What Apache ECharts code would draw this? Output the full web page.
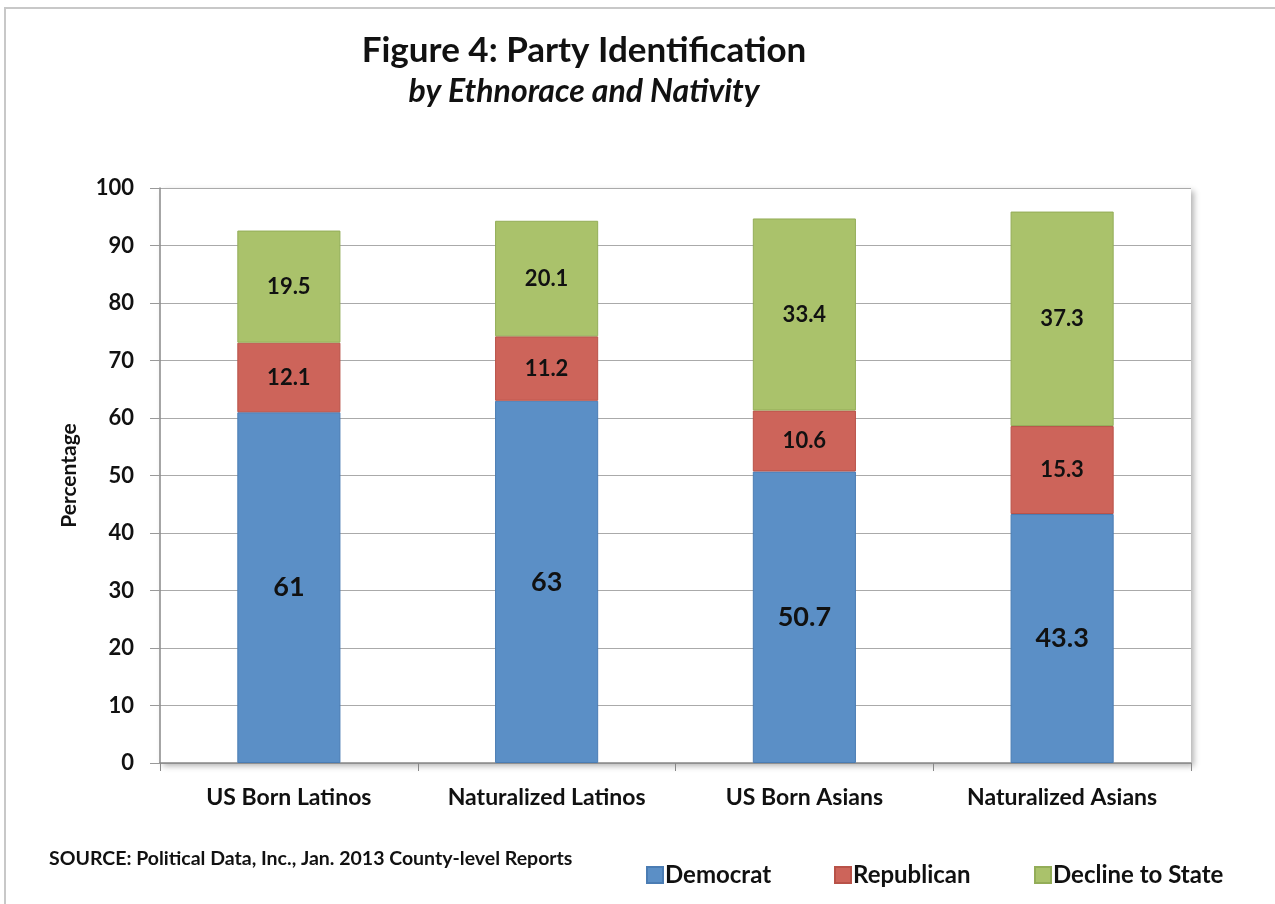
<!DOCTYPE html>
<html>
<head>
<meta charset="utf-8">
<script src="https://cdn.jsdelivr.net/npm/echarts@6/dist/echarts.min.js"></script>
<style>
  html, body { margin: 0; padding: 0; background: #fff; }
  #frame {
    position: absolute; left: 4px; top: 7px; width: 1300px; height: 1000px;
    border: 2px solid #c8c8c8; box-sizing: border-box;
  }
  #chart { position: absolute; left: 0; top: 0; width: 1275px; height: 904px; }
</style>
</head>
<body>
<div id="frame"></div>
<div id="chart"></div>
<script>
// 数据
const categories = ['US Born Latinos', 'Naturalized Latinos', 'US Born Asians', 'Naturalized Asians']
const democrat = [61, 63, 50.7, 43.3]
const republican = [12.1, 11.2, 10.6, 15.3]
const declineToState = [19.5, 20.1, 33.4, 37.3]
const yTicks = { min: 0, max: 100, interval: 10 }

const FONT = 'Lato'
const BLUE = '#5b8fc6'
const RED = '#cd645a'
const GREEN = '#aac26b'

const chart = echarts.init(document.getElementById('chart'))

const labelStyle = (size) => ({
  show: true,
  position: 'inside',
  color: '#111',
  fontFamily: FONT,
  fontWeight: 'bold',
  fontSize: size
})

const legendItem = (name, left) => ({
  left: left, top: 858,
  itemWidth: 16, itemHeight: 16,
  icon: 'rect',
  textStyle: { fontFamily: FONT, fontWeight: 'bold', fontSize: 24, color: '#111', padding: [0, 0, 0, -3] },
  data: [name]
})

const option = {
  backgroundColor: 'transparent',
  animation: false,
  title: [
    {
      text: 'Figure 4: Party Identification',
      left: 579, top: 28, textAlign: 'center',
      textStyle: { fontFamily: FONT, fontWeight: 'bold', fontSize: 35, color: '#111' }
    },
    {
      text: 'by Ethnorace and Nativity',
      left: 579, top: 71, textAlign: 'center',
      textStyle: { fontFamily: FONT, fontWeight: 'bold', fontStyle: 'italic', fontSize: 32, color: '#111' }
    },
    {
      text: 'SOURCE: Political Data, Inc., Jan. 2013 County-level Reports',
      left: 44, top: 844,
      textStyle: { fontFamily: FONT, fontWeight: 'bold', fontSize: 19.5, color: '#111' }
    }
  ],
  grid: {
    left: 160, right: 84, top: 188, bottom: 141,
    show: true,
    backgroundColor: '#fff',
    borderWidth: 0,
    shadowColor: 'rgba(0,0,0,0.3)',
    shadowBlur: 6,
    shadowOffsetX: 3,
    shadowOffsetY: 3
  },
  legend: [
    legendItem('Democrat', 641),
    legendItem('Republican', 829),
    legendItem('Decline to State', 1029)
  ],
  xAxis: {
    type: 'category',
    data: categories,
    axisLine: { lineStyle: { color: '#888', width: 1.5 } },
    axisTick: { show: true, length: 8, interval: 0, lineStyle: { color: '#888' } },
    axisLabel: { interval: 0, fontFamily: FONT, fontWeight: 'bold', fontSize: 23, color: '#111', margin: 23 }
  },
  yAxis: {
    type: 'value',
    min: yTicks.min, max: yTicks.max, interval: yTicks.interval,
    name: 'Percentage',
    nameLocation: 'middle',
    nameGap: 80,
    nameTextStyle: { fontFamily: FONT, fontWeight: 'bold', fontSize: 21, color: '#111' },
    axisLine: { show: true, lineStyle: { color: '#888', width: 1.5 } },
    axisTick: { show: true, length: 10, lineStyle: { color: '#999' } },
    axisLabel: { fontFamily: FONT, fontWeight: 'bold', fontSize: 22, color: '#111', margin: 26 },
    splitLine: { lineStyle: { color: '#aaa', width: 1.2 } }
  },
  series: [
    {
      name: 'Democrat', type: 'bar', stack: 'total', barWidth: '40%',
      itemStyle: { color: BLUE, borderColor: '#4a7cb3', borderWidth: 1 },
      label: labelStyle(27),
      data: democrat
    },
    {
      name: 'Republican', type: 'bar', stack: 'total',
      itemStyle: { color: RED, borderColor: '#b85248', borderWidth: 1 },
      label: labelStyle(22),
      data: republican
    },
    {
      name: 'Decline to State', type: 'bar', stack: 'total',
      itemStyle: { color: GREEN, borderColor: '#93ad58', borderWidth: 1 },
      label: labelStyle(22),
      data: declineToState
    }
  ]
}

chart.setOption(option)
window.addEventListener('resize', () => chart.resize())
</script>
</body>
</html>
